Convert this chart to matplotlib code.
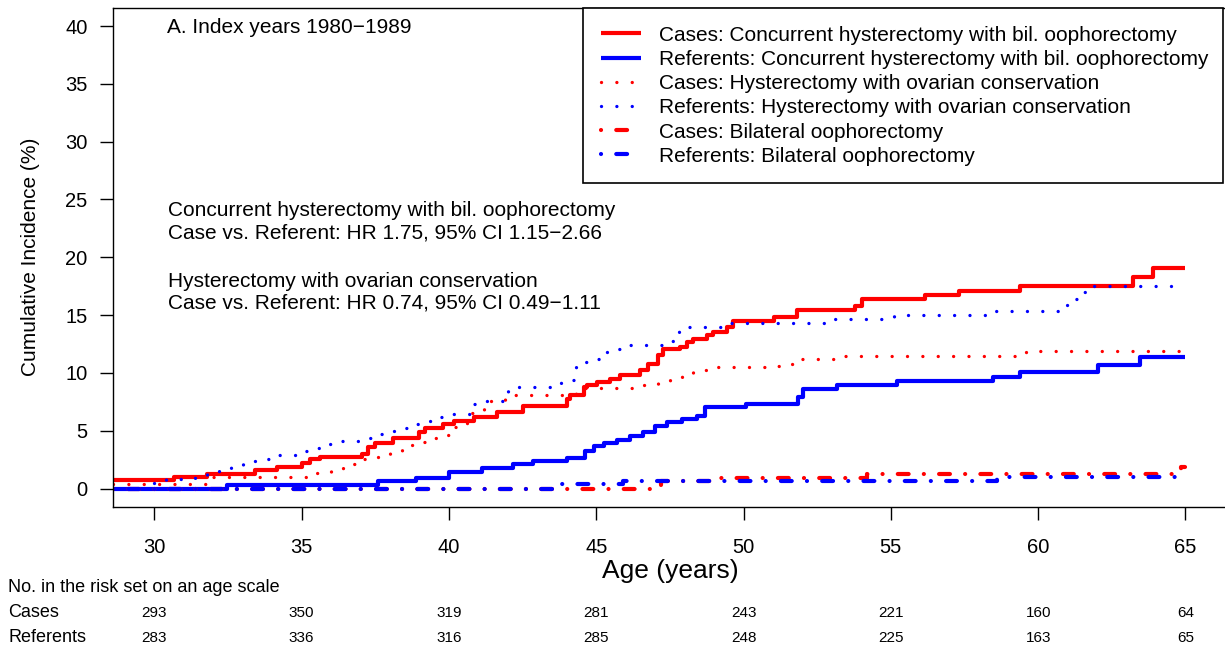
import matplotlib
matplotlib.use('Agg')
import matplotlib.pyplot as plt
import matplotlib.transforms as mtransforms

plt.rcParams['font.family'] = ['Liberation Sans', 'DejaVu Sans']

# cumulative incidence (%) step curves
case_hbo_age = [28.6, 30.66, 31.79, 33.43, 34.16, 35.01, 35.29, 35.63, 37.05, 37.27,
                37.5, 38.12, 39.0, 39.2, 39.8, 40.16, 40.84, 41.63, 42.53, 44.0,
                44.12, 44.57, 44.68, 45.02, 45.47, 45.81, 46.49, 46.77, 47.11, 47.28,
                47.85, 48.07, 48.3, 48.75, 48.98, 49.43, 49.66, 51.02, 51.81, 53.79,
                54.01, 56.16, 57.33, 59.39, 63.23, 63.91, 65.0]
case_hbo_inc = [0.7, 0.99, 1.28, 1.6, 1.89, 2.24, 2.53, 2.73, 2.96, 3.55,
                3.9, 4.35, 4.9, 5.25, 5.58, 5.87, 6.16, 6.65, 7.12, 7.76,
                8.05, 8.78, 8.98, 9.21, 9.5, 9.85, 10.23, 10.81, 11.53, 12.06,
                12.26, 12.7, 12.9, 13.28, 13.57, 14.01, 14.45, 14.8, 15.4, 15.75,
                16.42, 16.77, 17.12, 17.5, 18.28, 19.09, 19.09]

ref_hbo_age = [28.6, 32.47, 37.61, 38.9, 40.02, 41.12, 42.19, 42.87, 44.0, 44.63,
               44.91, 45.25, 45.7, 46.15, 46.6, 47.0, 47.4, 47.9, 48.42, 48.7,
               50.1, 51.86, 52.03, 53.17, 55.2, 58.48, 59.39, 62.04, 63.46, 65.0]
ref_hbo_inc = [0.0, 0.29, 0.64, 0.93, 1.45, 1.8, 2.15, 2.38, 2.67, 3.25,
               3.69, 3.9, 4.18, 4.56, 4.85, 5.43, 5.73, 6.02, 6.3, 7.04,
               7.32, 7.91, 8.6, 8.95, 9.27, 9.65, 10.09, 10.66, 11.39, 11.39]

case_hwoc_age = [28.6, 31.9, 35.5, 36.0, 36.4, 36.8, 37.6, 38.0, 38.4, 38.8,
                 39.2, 39.6, 40.1, 40.6, 40.8, 41.2, 41.4, 41.9, 44.3, 46.2,
                 47.1, 47.5, 47.9, 48.3, 48.8, 51.0, 51.3, 51.7, 53.2, 59.6, 65.0]
case_hwoc_inc = [0.42, 1.0, 1.3, 1.6, 2.15, 2.53, 2.96, 3.25, 3.72, 4.05,
                 4.38, 4.65, 5.29, 6.0, 6.5, 7.0, 7.53, 8.1, 8.69, 8.98,
                 9.21, 9.59, 9.88, 10.23, 10.52, 10.6, 10.81, 11.16, 11.48, 11.88, 11.88]

ref_hwoc_age = [30.0, 30.4, 31.4, 31.8, 32.2, 32.6, 33.0, 33.5, 33.9, 34.8,
                35.3, 35.7, 36.1, 37.1, 37.5, 37.9, 38.3, 38.8, 39.2, 39.6,
                40.1, 40.7, 41.2, 42.0, 42.3, 43.8, 44.3, 44.7, 45.1, 45.5,
                46.0, 47.4, 47.6, 47.8, 49.5, 53.1, 55.1, 58.2, 60.8, 61.2,
                61.5, 61.8, 65.0]
ref_hwoc_inc = [0.44, 0.78, 1.02, 1.37, 1.72, 2.03, 2.35, 2.53, 2.9, 3.25,
                3.49, 3.84, 4.1, 4.39, 4.68, 4.94, 5.23, 5.55, 5.85, 6.15,
                6.45, 7.32, 7.61, 8.48, 8.78, 9.42, 10.9, 11.19, 11.83, 12.06,
                12.4, 12.76, 13.57, 14.0, 14.3, 14.65, 14.97, 15.37, 15.84, 16.42,
                16.97, 17.55, 17.55]

case_bo_age = [28.6, 47.2, 49.2, 54.2, 64.85, 65.0]
case_bo_inc = [0.0, 0.64, 0.93, 1.22, 1.9, 1.9]
ref_bo_age = [28.6, 43.5, 45.9, 58.6, 65.0]
ref_bo_inc = [0.0, 0.35, 0.64, 1.02, 1.02]

# risk set table
risk_ages = [30, 35, 40, 45, 50, 55, 60, 65]
risk_cases = [293, 350, 319, 281, 243, 221, 160, 64]
risk_refs = [283, 336, 316, 285, 248, 225, 163, 65]

RED = '#FF0000'
BLUE = '#0000FF'
dotted = (0, (0.01, 4.6))
dotdash = (0, (0.01, 3.65, 2.6, 3.65))

fig = plt.figure(figsize=(12.25, 6.48), dpi=100)
ax = fig.add_axes([113 / 1225, 141 / 648, 1113.7 / 1225, 499.5 / 648])

ax.step(case_hbo_age, case_hbo_inc, where='post', color=RED, lw=3.0,
        solid_capstyle='butt', label='Cases: Concurrent hysterectomy with bil. oophorectomy')
ax.step(ref_hbo_age, ref_hbo_inc, where='post', color=BLUE, lw=3.0,
        solid_capstyle='butt', label='Referents: Concurrent hysterectomy with bil. oophorectomy')
ax.step(case_hwoc_age, case_hwoc_inc, where='post', color=RED, lw=2.4, ls=dotted,
        dash_capstyle='round', label='Cases: Hysterectomy with ovarian conservation')
ax.step(ref_hwoc_age, ref_hwoc_inc, where='post', color=BLUE, lw=2.4, ls=dotted,
        dash_capstyle='round', label='Referents: Hysterectomy with ovarian conservation')
ax.step(case_bo_age, case_bo_inc, where='post', color=RED, lw=3.0, ls=dotdash,
        dash_capstyle='round', label='Cases: Bilateral oophorectomy')
ax.step(ref_bo_age, ref_bo_inc, where='post', color=BLUE, lw=3.0, ls=dotdash,
        dash_capstyle='round', label='Referents: Bilateral oophorectomy')

ax.set_xlim(28.6, 66.4)
ax.set_ylim(-1.6, 41.6)
ax.set_xticks(risk_ages)
ax.set_yticks(range(0, 41, 5))
ax.tick_params(axis='both', direction='out', length=9.4, width=1.0, labelsize=14.5,
               color='black')
ax.tick_params(axis='x', pad=13)
ax.tick_params(axis='y', pad=9)
for sp in ax.spines.values():
    sp.set_linewidth(1.0)
    sp.set_color('black')

ax.set_xlabel('Age (years)', fontsize=19, va='baseline')
ax.xaxis.set_label_coords(0.5, (507 - 578.3) / 499.5)
ax.set_ylabel('Cumulative Incidence (%)', fontsize=15, va='center')
ax.yaxis.set_label_coords((30 - 113) / 1113.7, 0.5)

leg = ax.legend(loc='upper left', bbox_to_anchor=(0.422, 0.0, 0.5747, 0.999),
                mode='expand', borderaxespad=0, fontsize=15, frameon=True,
                fancybox=False, framealpha=1, edgecolor='black',
                handlelength=1.92, handletextpad=0.87, borderpad=0.85,
                labelspacing=0.25)
leg.get_frame().set_linewidth(1.2)

ax.text(30.43, 39.41, 'A. Index years 1980\u22121989', fontsize=15, va='baseline')
ax.text(30.46, 23.53, 'Concurrent hysterectomy with bil. oophorectomy', fontsize=15, va='baseline')
ax.text(30.46, 21.6, 'Case vs. Referent: HR 1.75, 95% CI 1.15\u22122.66', fontsize=15, va='baseline')
ax.text(30.46, 17.47, 'Hysterectomy with ovarian conservation', fontsize=15, va='baseline')
ax.text(30.46, 15.54, 'Case vs. Referent: HR 0.74, 95% CI 0.49\u22121.11', fontsize=15, va='baseline')

# risk table under the axis
trans = mtransforms.blended_transform_factory(ax.transData, fig.transFigure)
fig.text(8 / 1225, (648 - 591.7) / 648, 'No. in the risk set on an age scale',
         fontsize=13, va='baseline')
fig.text(8 / 1225, (648 - 616.7) / 648, 'Cases', fontsize=13, va='baseline')
fig.text(8 / 1225, (648 - 642) / 648, 'Referents', fontsize=13, va='baseline')
for a, c, r in zip(risk_ages, risk_cases, risk_refs):
    ax.text(a, (648 - 616.7) / 648, str(c), transform=trans, fontsize=11,
            ha='center', va='baseline')
    ax.text(a, (648 - 642) / 648, str(r), transform=trans, fontsize=11,
            ha='center', va='baseline')

fig.savefig('out.png', dpi=100)
